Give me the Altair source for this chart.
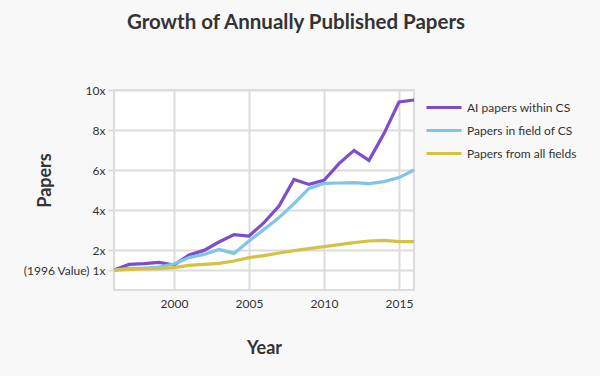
import altair as alt
import pandas as pd

years = list(range(1996, 2017))
ai_papers = [1.0, 1.28, 1.32, 1.38, 1.25, 1.75, 1.98, 2.4, 2.77, 2.7, 3.37, 4.2, 5.53, 5.28, 5.48, 6.32, 6.98, 6.48, 7.82, 9.4, 9.5]
cs_papers = [1.0, 1.08, 1.1, 1.15, 1.3, 1.62, 1.78, 2.03, 1.83, 2.45, 3.03, 3.62, 4.32, 5.08, 5.33, 5.35, 5.37, 5.32, 5.42, 5.62, 6.0]
all_papers = [0.98, 1.03, 1.05, 1.07, 1.12, 1.23, 1.28, 1.33, 1.45, 1.62, 1.72, 1.85, 1.97, 2.07, 2.17, 2.27, 2.37, 2.45, 2.48, 2.42, 2.42]

series_names = ["AI papers within CS", "Papers in field of CS", "Papers from all fields"]
series_colors = ["#7d4dca", "#80c4e9", "#d5c245"]
y_ticks = [1, 2, 4, 6, 8, 10]
x_ticks = [2000, 2005, 2010, 2015]

rows = []
for name, vals in zip(series_names, [ai_papers, cs_papers, all_papers]):
    for yr, v in zip(years, vals):
        rows.append({"Year": yr, "Value": v, "Series": name})
df = pd.DataFrame(rows)

FONT = "Lato"
TXT = "#333333"
GRID = "#dcdcdc"

chart = alt.Chart(df).mark_line(strokeWidth=3.2).encode(
    x=alt.X("Year:Q",
            scale=alt.Scale(domain=[1996, 2016], nice=False, zero=False),
            axis=alt.Axis(values=x_ticks, format="d", title="Year",
                          grid=True, gridColor=GRID, gridWidth=2,
                          domain=False, ticks=False, labelPadding=8,
                          labelFontSize=12, labelColor=TXT, labelFont=FONT,
                          titleFontSize=18, titleFont=FONT, titleFontWeight="bold",
                          titleColor=TXT, titleY=58, titleBaseline="middle")),
    y=alt.Y("Value:Q",
            scale=alt.Scale(domain=[0, 10], nice=False),
            axis=alt.Axis(values=y_ticks, title="Papers",
                          labelExpr="datum.value == 1 ? '(1996 Value) 1x' : datum.value + 'x'",
                          grid=True, gridColor=GRID, gridWidth=2,
                          domain=False, ticks=True, tickColor=GRID, tickWidth=2, tickSize=6,
                          labelPadding=3, labelFontSize=12, labelColor=TXT, labelFont=FONT,
                          titleFontSize=18, titleFont=FONT, titleFontWeight="bold",
                          titleColor=TXT, titleAngle=-90, titleX=-69, titleY=90,
                          titleAlign="center", titleBaseline="middle")),
    color=alt.Color("Series:N",
                    scale=alt.Scale(domain=series_names, range=series_colors),
                    sort=series_names,
                    legend=alt.Legend(title=None, orient="none", legendX=323.5, legendY=11,
                                      symbolType="M-3.5,0H3.5", symbolSize=100,
                                      symbolStrokeWidth=3, labelOffset=16.5,
                                      rowPadding=10, padding=0,
                                      labelFontSize=12, labelColor=TXT, labelFont=FONT)),
).properties(
    width=300,
    height=200,
    title=alt.TitleParams("Growth of Annually Published Papers", fontSize=20.5,
                          font=FONT, fontWeight="bold", color=TXT,
                          anchor="middle", dx=32, offset=35, baseline="alphabetic"),
    autosize=alt.AutoSizeParams(type="none"),
    padding={"left": 114, "top": 90, "right": 186, "bottom": 86},
    background="#f8f8f8",
).configure_view(
    fill="white", stroke=GRID, strokeWidth=2
)

chart.save("out.html", embed_options={"renderer": "svg", "actions": False})
